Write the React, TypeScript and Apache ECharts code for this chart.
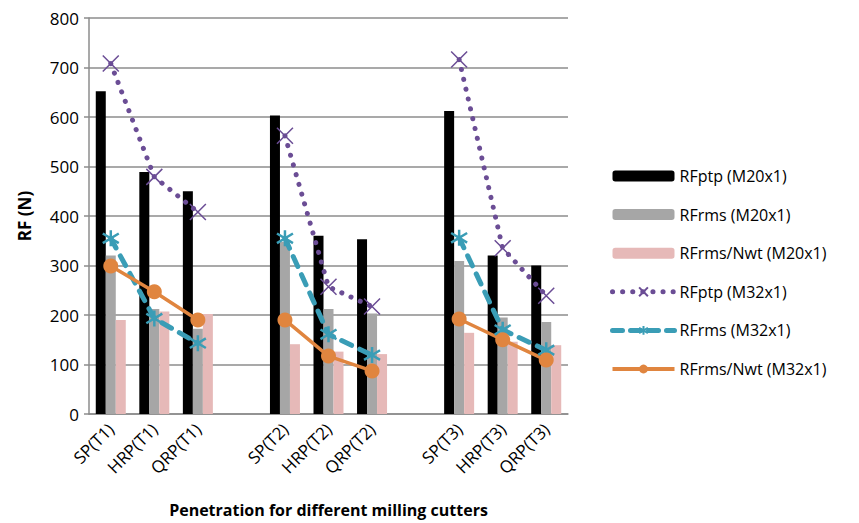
import React, { useEffect, useRef } from "react";
import * as echarts from "echarts";

const categories = ["SP(T1)", "HRP(T1)", "QRP(T1)", "", "SP(T2)", "HRP(T2)", "QRP(T2)", "", "SP(T3)", "HRP(T3)", "QRP(T3)"];
const rfptpM20 = [652, 489, 450, null, 603, 360, 353, null, 612, 320, 300];
const rfrmsM20 = [320, 212, 172, null, 348, 212, 203, null, 309, 195, 186];
const rfrmsNwtM20 = [190, 207, 202, null, 141, 126, 121, null, 164, 146, 139];
const rfptpM32 = [708, 479, 408, null, 562, 257, 217, null, 716, 335, 239];
const rfrmsM32 = [355, 193, 143, null, 355, 161, 119, null, 356, 170, 129];
const rfrmsNwtM32 = [299, 247, 190, null, 190, 117, 87, null, 192, 150, 109];
const yTicks = { min: 0, max: 800, interval: 100 };

const FONT = "'Open Sans', 'Noto Sans', sans-serif";
const PURPLE = "#6b4d95";
const BLUE = "#3a9db6";
const ORANGE = "#e0853f";

export default function App() {
  const ref = useRef<HTMLDivElement>(null);
  useEffect(() => {
    if (!ref.current) return;
    const chart = echarts.init(ref.current, null, { renderer: "svg" });
    chart.setOption({
      animation: false,
      textStyle: { fontFamily: FONT },
      grid: { left: 80, right: 299, top: 10, bottom: 117, containLabel: false },
      legend: {
        orient: "vertical",
        left: 602,
        top: 157,
        padding: 0,
        itemWidth: 62,
        itemHeight: 11,
        itemGap: 16.6,
        textStyle: { fontSize: 16, color: "#000", fontFamily: FONT, lineHeight: 22 },
        data: [
          { name: "RFptp (M20x1)" },
          { name: "RFrms (M20x1)" },
          { name: "RFrms/Nwt (M20x1)" },
          { name: "RFptp (M32x1)", lineStyle: { width: 5 } },
          { name: "RFrms (M32x1)", lineStyle: { width: 5, type: [10, 8] } },
          { name: "RFrms/Nwt (M32x1)", lineStyle: { width: 4 } },
        ],
      },
      xAxis: {
        type: "category",
        data: categories,
        axisLine: { lineStyle: { color: "#8c8c8c", width: 1.5 } },
        axisTick: { show: false },
        axisLabel: { interval: 0, rotate: 45, fontSize: 17, color: "#000", margin: 12, fontFamily: FONT },
        name: "Penetration for different milling cutters",
        nameLocation: "middle",
        nameGap: 88,
        nameTextStyle: { fontSize: 16, fontWeight: "bold", color: "#000", fontFamily: FONT },
      },
      yAxis: {
        type: "value",
        min: yTicks.min,
        max: yTicks.max,
        interval: yTicks.interval,
        axisLine: { show: true, lineStyle: { color: "#8c8c8c", width: 1.5 } },
        axisTick: { show: true, length: 5, lineStyle: { color: "#8c8c8c", width: 1.5 } },
        splitLine: { lineStyle: { color: "#8c8c8c", width: 1.5 } },
        axisLabel: { fontSize: 17, color: "#000", margin: 10, fontFamily: FONT },
        name: "RF (N)",
        nameLocation: "middle",
        nameGap: 56,
        nameTextStyle: { fontSize: 17, fontWeight: "bold", color: "#000", fontFamily: FONT },
      },
      series: [
        { name: "RFptp (M20x1)", type: "bar", data: rfptpM20, barWidth: 10, barGap: "0%", itemStyle: { color: "#000" } },
        { name: "RFrms (M20x1)", type: "bar", data: rfrmsM20, barWidth: 10, barGap: "0%", itemStyle: { color: "#a6a6a6" } },
        { name: "RFrms/Nwt (M20x1)", type: "bar", data: rfrmsNwtM20, barWidth: 10, barGap: "0%", itemStyle: { color: "#e6b9b8" } },
        {
          name: "RFptp (M32x1)",
          type: "line",
          data: rfptpM32,
          symbol: "path://M0,0L10,10M10,0L0,10",
          symbolSize: 16,
          lineStyle: { color: PURPLE, width: 5, type: [0.1, 10], cap: "round" },
          itemStyle: { color: "rgba(0,0,0,0)", borderColor: PURPLE, borderWidth: 1.5, borderType: "solid" },
        },
        {
          name: "RFrms (M32x1)",
          type: "line",
          data: rfrmsM32,
          symbol: "path://M5,0L5,10M0,2L10,8M0,8L10,2",
          symbolSize: 16,
          lineStyle: { color: BLUE, width: 5, type: [11, 9], cap: "round" },
          itemStyle: { color: "rgba(0,0,0,0)", borderColor: BLUE, borderWidth: 2.5, borderType: "solid" },
        },
        {
          name: "RFrms/Nwt (M32x1)",
          type: "line",
          data: rfrmsNwtM32,
          symbol: "circle",
          symbolSize: 15,
          lineStyle: { color: ORANGE, width: 3.5 },
          itemStyle: { color: ORANGE, borderWidth: 0 },
        },
      ],
    });
    return () => chart.dispose();
  }, []);
  return <div ref={ref} style={{ width: 859, height: 523 }} />;
}
